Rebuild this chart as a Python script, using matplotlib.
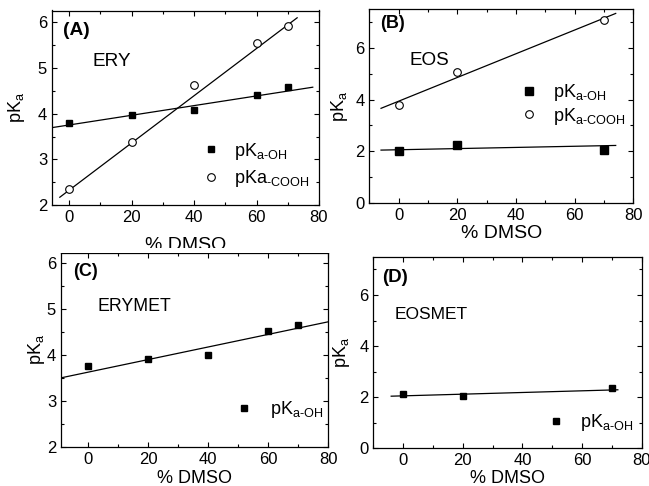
import numpy as np
import matplotlib
matplotlib.use("Agg")
import matplotlib.pyplot as plt
from matplotlib.ticker import MultipleLocator
from matplotlib.patches import Rectangle

plt.rcParams['font.family'] = ['Liberation Sans', 'DejaVu Sans']
plt.rcParams['mathtext.fontset'] = 'custom'
plt.rcParams['mathtext.rm'] = 'Liberation Sans'
plt.rcParams['mathtext.it'] = 'Liberation Sans'

# ---- data ----
# (A) ERY
ery_x = [0, 20, 40, 60, 70]
ery_oh = [3.80, 3.97, 4.09, 4.41, 4.59]
ery_cooh = [2.35, 3.39, 4.62, 5.55, 5.93]
ery_oh_fit_x = [-5, 78]
ery_oh_fit_y = [3.70, 4.58]
ery_cooh_fit_x = [-3, 73]
ery_cooh_fit_y = [2.17, 6.10]

# (B) EOS
eos_x = [0, 20, 70]
eos_oh = [2.00, 2.23, 2.03]
eos_cooh = [3.80, 5.05, 7.10]
eos_oh_fit_x = [-6, 74]
eos_oh_fit_y = [2.04, 2.22]
eos_cooh_fit_x = [-6, 74]
eos_cooh_fit_y = [3.66, 7.34]

# (C) ERYMET
erymet_x = [0, 20, 40, 60, 70]
erymet_oh = [3.75, 3.90, 4.00, 4.52, 4.65]
erymet_fit_x = [-9, 80]
erymet_fit_y = [3.50, 4.72]

# (D) EOSMET
eosmet_x = [0, 20, 70]
eosmet_oh = [2.11, 2.03, 2.37]
eosmet_fit_x = [-4, 72]
eosmet_fit_y = [2.04, 2.29]

lab_oh = r'pK$_{\mathregular{a\text{-}OH}}$'
lab_cooh = r'pK$_{\mathregular{a\text{-}COOH}}$'
lab_cooh_a = r'pKa$_{\mathregular{\text{-}COOH}}$'
ylab = r'pK$_{\mathregular{a}}$'

W, H = 649, 486
fig = plt.figure(figsize=(W / 100, H / 100), dpi=100)


def make_ax(l, t, r, b):
    return fig.add_axes([l / W, 1 - b / H, (r - l) / W, (b - t) / H])


def style(ax, xlim, ylim, ymaj, fs=12, xfs=14, xpad=2, ypad=2):
    ax.set_xlim(*xlim)
    ax.set_ylim(*ylim)
    ax.xaxis.set_major_locator(MultipleLocator(20))
    ax.xaxis.set_minor_locator(MultipleLocator(10))
    ax.yaxis.set_major_locator(MultipleLocator(ymaj))
    ax.yaxis.set_minor_locator(MultipleLocator(ymaj / 2))
    ax.tick_params(which='both', direction='in', top=True, right=True,
                   labelsize=fs, width=0.8, pad=3.5)
    ax.tick_params(which='major', length=3.5)
    ax.tick_params(which='minor', length=2)
    for s in ax.spines.values():
        s.set_linewidth(0.9)
    ax.set_xlabel('% DMSO', fontsize=xfs, labelpad=xpad)
    ax.set_ylabel(ylab, fontsize=13, labelpad=ypad)


lw = 0.9

# (A)
axA = make_ax(52, 10.5, 319, 205)
style(axA, (-5.5, 80), (2, 6.26), 1, xfs=14, xpad=8.5, ypad=8)
axA.plot(ery_oh_fit_x, ery_oh_fit_y, color='black', lw=lw)
axA.plot(ery_cooh_fit_x, ery_cooh_fit_y, color='black', lw=lw)
hA1, = axA.plot(ery_x, ery_oh, 's', color='black', ms=5, label=lab_oh)
hA2, = axA.plot(ery_x, ery_cooh, 'o', mfc='white', mec='black', mew=0.8, ms=5.5, label=lab_cooh_a)
axA.text(-2, 5.83, '(A)', fontsize=13.8, fontweight='bold', va='center', ha='left')
axA.text(7.6, 5.15, 'ERY', fontsize=13.7, va='center', ha='left')
axA.legend(handles=[hA1, hA2], loc='center left', bbox_to_anchor=(0.563, 0.207),
           frameon=False, fontsize=13, handlelength=1, handletextpad=0.75,
           borderpad=0, borderaxespad=0, labelspacing=0.35, numpoints=1)

# (B)
axB = make_ax(369.3, 9.3, 633.3, 202.7)
style(axB, (-10, 80), (0, 7.5), 2, xfs=14, xpad=2, ypad=4)
axB.plot(eos_oh_fit_x, eos_oh_fit_y, color='black', lw=lw)
axB.plot(eos_cooh_fit_x, eos_cooh_fit_y, color='black', lw=lw)
hB1, = axB.plot(eos_x, eos_oh, 's', color='black', ms=5.3, label=lab_oh)
hB2, = axB.plot(eos_x, eos_cooh, 'o', mfc='white', mec='black', mew=0.8, ms=5.5, label=lab_cooh)
axB.text(-6.2, 6.93, '(B)', fontsize=13, fontweight='bold', va='center', ha='left')
axB.text(3.7, 5.53, 'EOS', fontsize=13.6, va='center', ha='left')
axB.legend(handles=[hB1, hB2], loc='center left', bbox_to_anchor=(0.571, 0.508),
           frameon=False, fontsize=13, handlelength=1, handletextpad=0.85,
           borderpad=0, borderaxespad=0, labelspacing=0.15, numpoints=1)

# (C)
axC = make_ax(61, 253, 328, 446.7)
style(axC, (-9, 80), (2, 6.22), 1, xfs=13, xpad=2.5, ypad=0)
axC.plot(erymet_fit_x, erymet_fit_y, color='black', lw=lw)
hC1, = axC.plot(erymet_x, erymet_oh, 's', color='black', ms=4.2, label=lab_oh)
axC.text(-4.8, 5.82, '(C)', fontsize=13, fontweight='bold', va='center', ha='left')
axC.text(3.3, 5.05, 'ERYMET', fontsize=12.8, va='center', ha='left')
axC.legend(handles=[hC1], loc='center left', bbox_to_anchor=(0.653, 0.191),
           frameon=False, fontsize=13, handlelength=1, handletextpad=0.9,
           borderpad=0, borderaxespad=0, numpoints=1)

# (D)
axD = make_ax(373.3, 256.7, 641.7, 448.3)
style(axD, (-10, 80), (0, 7.5), 2, xfs=13, xpad=1, ypad=5)
axD.plot(eosmet_fit_x, eosmet_fit_y, color='black', lw=lw)
hD1, = axD.plot(eosmet_x, eosmet_oh, 's', color='black', ms=4.2, label=lab_oh)
axD.text(-7, 6.68, '(D)', fontsize=13.5, fontweight='bold', va='center', ha='left')
axD.text(-2.8, 5.25, 'EOSMET', fontsize=12.5, va='center', ha='left')
axD.legend(handles=[hD1], loc='center left', bbox_to_anchor=(0.646, 0.134),
           frameon=False, fontsize=13, handlelength=1, handletextpad=0.85,
           borderpad=0, borderaxespad=0, numpoints=1)

# white strip that cuts the lower part of panel A's x label (as in the original)
fig.patches.append(Rectangle((0, 1 - 253 / H), 0.52, 4.5 / H, transform=fig.transFigure,
                             facecolor='white', edgecolor='none', zorder=5))

fig.savefig('out.png', dpi=100)
